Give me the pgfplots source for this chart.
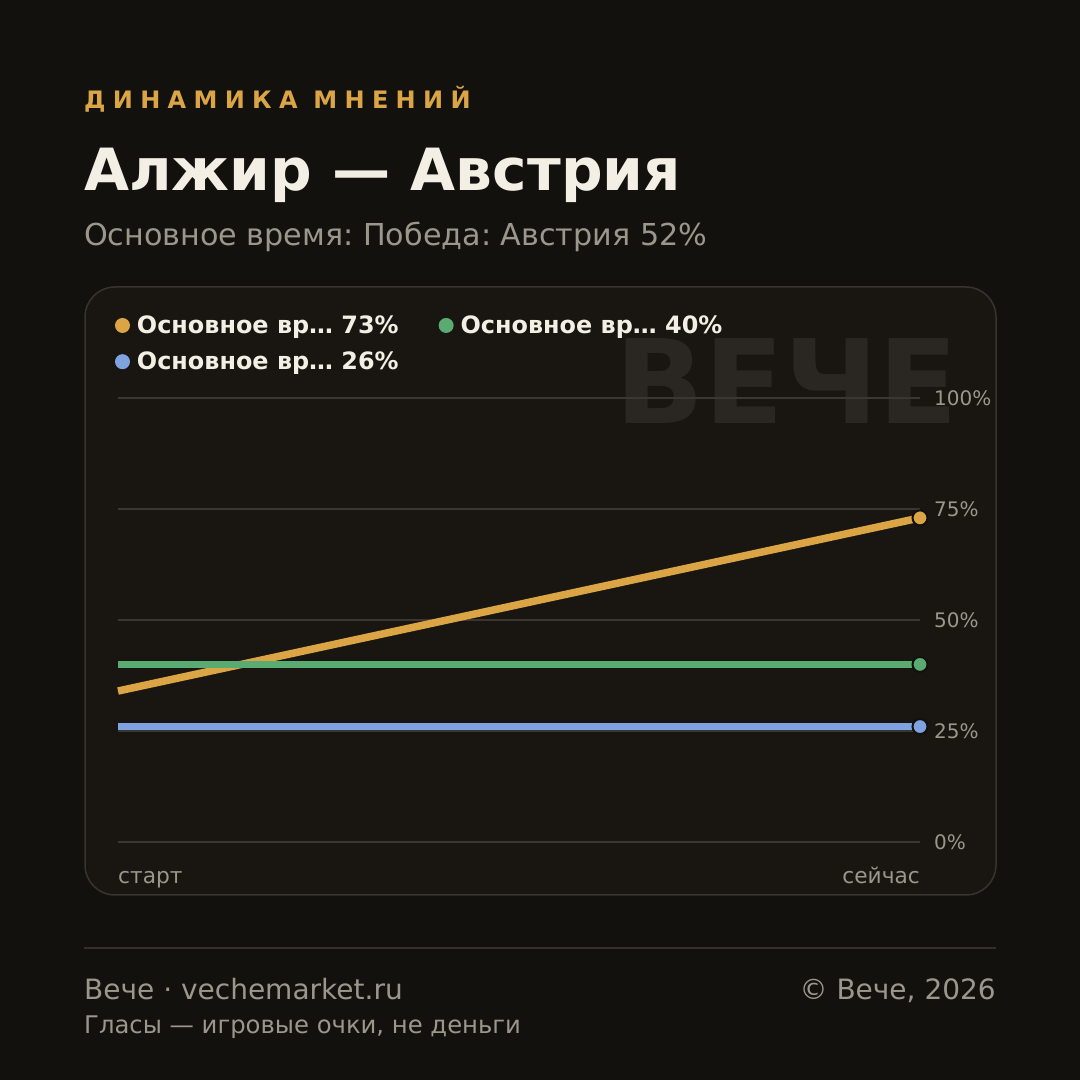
\documentclass[border=0pt]{standalone}
\usepackage{pgfplots}
\pgfplotsset{compat=1.18}
\usepackage{fontspec}
\setmainfont{DejaVu Sans}
\frenchspacing
\definecolor{bg}{HTML}{12110E}
\definecolor{card}{HTML}{191612}
\definecolor{cardborder}{HTML}{37332D}
\definecolor{gridc}{HTML}{3A3731}
\definecolor{wm}{HTML}{2A2722}
\definecolor{sepc}{HTML}{34312B}
\definecolor{cream}{HTML}{F3EFE4}
\definecolor{greyt}{HTML}{9C978B}
\definecolor{orangeC}{HTML}{DBA545}
\definecolor{greenC}{HTML}{5AAB72}
\definecolor{blueC}{HTML}{7FA2E1}
\begin{document}
\begin{tikzpicture}[x=1pt,y=1pt]
\useasboundingbox (0,0) rectangle (1080,1080);
\fill[bg] (0,0) rectangle (1080,1080);
\node[anchor=base west, inner sep=0, text=orangeC, font=\fontsize{24}{28}\selectfont\bfseries\addfontfeature{LetterSpace=30.5}] at (84,971) {ДИНАМИКА МНЕНИЙ};
\node[anchor=base west, inner sep=0, text=cream, font=\fontsize{58.2}{64}\selectfont\bfseries] at (84,889) {Алжир — Австрия};
\node[anchor=base west, inner sep=0, text=greyt, font=\fontsize{30.2}{32}\selectfont] at (84,834) {Основное время: Победа: Австрия 52\%};
\filldraw[fill=card, draw=cardborder, line width=1.5pt, rounded corners=30pt] (85,185) rectangle (996,793);
\node[anchor=base east, inner sep=0, text=wm, font=\fontsize{116.5}{120}\selectfont\bfseries] at (958,656) {ВЕЧЕ};
\draw[sepc, line width=1.5pt] (84,132) -- (996,132);
\node[anchor=base west, inner sep=0, text=greyt, font=\fontsize{28}{30}\selectfont] at (84,80) {Вече · vechemarket.ru};
\node[anchor=base east, inner sep=0, text=greyt, font=\fontsize{28}{30}\selectfont] at (996,80) {© Вече, 2026};
\node[anchor=base west, inner sep=0, text=greyt, font=\fontsize{24.3}{26}\selectfont] at (84,46) {Гласы — игровые очки, не деньги};
\begin{axis}[
  at={(118pt,238pt)}, anchor=south west,
  scale only axis, width=802pt, height=444pt,
  xmin=0, xmax=1, ymin=0, ymax=100,
  clip=false,
  axis line style={draw=none},
  xtick=\empty,
  ytick={0,25,50,75,100},
  ymajorgrids,
  major grid style={color=gridc, line width=1.5pt},
  major tick length=0pt,
  tick style={draw=none},
  yticklabel pos=right,
  /pgf/number format/assume math mode=true,
  yticklabel={\pgfmathprintnumber{\tick}\%},
  yticklabel style={anchor=west, inner sep=0pt, xshift=14pt, text=greyt, font=\fontsize{20}{24}\selectfont},
  legend columns=2,
  legend cell align=left,
  legend image code/.code={\fill[#1, draw=none] (7.5pt,0pt) circle (7.5pt);},
  legend style={at={(axis description cs:-0.004,1.19)}, anchor=north west, draw=none, fill=none, inner sep=0pt,
    text=cream, font=\fontsize{23.9}{28}\selectfont\bfseries, row sep=13pt,
    nodes={inner xsep=7pt},
    /tikz/every even column/.append style={column sep=33pt}},
]
\addplot[color=orangeC, line width=7.5pt, mark=*, mark indices={2}, mark size=7.5pt, mark options={draw=bg, line width=2pt, fill=orangeC}] coordinates {(0,34) (1,73)};
\addlegendentry{Основное вр… 73\%}
\addplot[color=greenC, line width=7.5pt, mark=*, mark indices={2}, mark size=7.5pt, mark options={draw=bg, line width=2pt, fill=greenC}] coordinates {(0,40) (1,40)};
\addlegendentry{Основное вр… 40\%}
\addplot[color=blueC, line width=7.5pt, mark=*, mark indices={2}, mark size=7.5pt, mark options={draw=bg, line width=2pt, fill=blueC}] coordinates {(0,26) (1,26)};
\addlegendentry{Основное вр… 26\%}
\node[anchor=base west, inner sep=0, yshift=-42pt, text=greyt, font=\fontsize{21.7}{24}\selectfont] at (axis cs:0,0) {старт};
\node[anchor=base east, inner sep=0, yshift=-42pt, text=greyt, font=\fontsize{21.7}{24}\selectfont] at (axis cs:1,0) {сейчас};
\end{axis}
\end{tikzpicture}
\end{document}
